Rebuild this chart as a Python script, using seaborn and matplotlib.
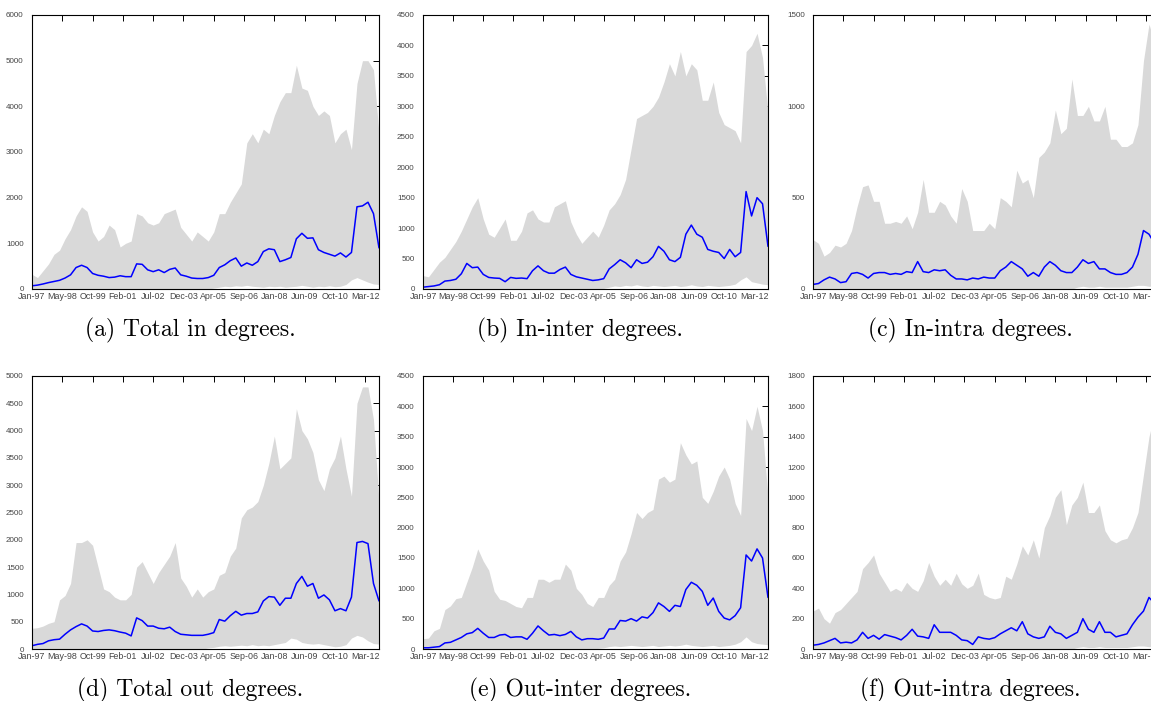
import numpy as np
import pandas as pd
import matplotlib
matplotlib.use("Agg")
import matplotlib.pyplot as plt
import seaborn as sns

# ---------------- data ----------------
tick_labels = ['Jan-97', 'May-98', 'Oct-99', 'Feb-01', 'Jul-02', 'Dec-03',
               'Apr-05', 'Sep-06', 'Jan-08', 'Jun-09', 'Oct-10', 'Mar-12']
months = np.arange(0, 190, 3)   # months since Jan-97, quarterly samples

captions = ['(a) Total in degrees.', '(b) In-inter degrees.', '(c) In-intra degrees.',
            '(d) Total out degrees.', '(e) Out-inter degrees.', '(f) Out-intra degrees.']

total_in_upper = [320, 250, 400, 550, 760, 850, 1100, 1300,
                  1600, 1800, 1700, 1250, 1050, 1150, 1400, 1300,
                  920, 1000, 1050, 1650, 1600, 1450, 1400, 1450,
                  1650, 1700, 1750, 1350, 1200, 1050, 1250, 1150,
                  1050, 1250, 1650, 1650, 1900, 2100, 2300, 3200,
                  3400, 3200, 3500, 3400, 3800, 4100, 4300, 4300,
                  4900, 4400, 4350, 4000, 3800, 3900, 3800, 3200,
                  3400, 3500, 3050, 4500, 5000, 5000, 4800, 3400]
total_in_mean = [70, 85, 110, 140, 165, 190, 240, 310,
                 470, 520, 470, 340, 300, 280, 250, 260,
                 290, 270, 270, 550, 540, 420, 380, 420,
                 360, 430, 460, 310, 280, 240, 230, 230,
                 250, 300, 470, 530, 620, 680, 500, 570,
                 520, 600, 820, 880, 860, 600, 640, 690,
                 1100, 1220, 1110, 1120, 860, 800, 760, 720,
                 790, 700, 800, 1800, 1820, 1900, 1650, 900]
total_in_lower = [0, 0, 0, 0, 0, 0, 0, 0,
                  0, 0, 0, 0, 0, 0, 0, 0,
                  0, 0, 0, 0, 0, 0, 0, 0,
                  0, 0, 0, 0, 0, 0, 0, 0,
                  0, 20, 40, 60, 50, 70, 60, 80,
                  60, 50, 40, 60, 50, 60, 40, 50,
                  60, 80, 60, 40, 60, 50, 70, 50,
                  60, 100, 200, 250, 200, 150, 110, 100]

in_inter_upper = [220, 200, 320, 440, 520, 650, 780, 950,
                  1150, 1350, 1500, 1150, 900, 850, 1000, 1150,
                  800, 800, 950, 1250, 1300, 1150, 1100, 1100,
                  1350, 1400, 1450, 1100, 900, 750, 850, 950,
                  850, 1050, 1300, 1400, 1550, 1800, 2300, 2800,
                  2850, 2900, 3000, 3150, 3400, 3700, 3500, 3900,
                  3500, 3700, 3600, 3100, 3100, 3400, 2900, 2700,
                  2650, 2600, 2400, 3900, 4000, 4200, 3800, 2900]
in_inter_mean = [30, 40, 50, 70, 130, 140, 160, 250,
                 420, 350, 360, 240, 190, 180, 175, 120,
                 190, 175, 180, 170, 300, 380, 300, 260,
                 260, 320, 360, 240, 200, 180, 160, 140,
                 150, 170, 330, 400, 480, 430, 350, 480,
                 420, 440, 530, 700, 620, 480, 450, 520,
                 900, 1050, 900, 850, 650, 620, 600, 500,
                 650, 530, 600, 1600, 1200, 1500, 1400, 700]
in_inter_lower = [0, 0, 0, 0, 0, 0, 0, 0,
                  0, 0, 0, 0, 0, 0, 0, 0,
                  0, 0, 0, 0, 0, 0, 0, 0,
                  0, 0, 0, 0, 0, 0, 0, 0,
                  0, 10, 30, 50, 40, 60, 50, 70,
                  50, 40, 60, 50, 40, 50, 60, 40,
                  50, 70, 50, 40, 60, 50, 40, 50,
                  60, 80, 150, 200, 120, 100, 80, 70]

in_intra_upper = [270, 250, 180, 200, 240, 230, 250, 320,
                  450, 560, 570, 480, 480, 360, 360, 370,
                  360, 400, 330, 420, 600, 420, 420, 480,
                  460, 400, 360, 550, 480, 320, 320, 320,
                  360, 330, 500, 480, 450, 650, 580, 600,
                  500, 720, 750, 800, 980, 850, 880, 1150,
                  950, 950, 1000, 920, 920, 1000, 820, 820,
                  780, 780, 800, 900, 1250, 1450, 1350, 1300]
in_intra_mean = [25, 30, 50, 65, 55, 35, 40, 85,
                 90, 80, 60, 85, 90, 90, 80, 85,
                 80, 95, 90, 150, 95, 90, 105, 100,
                 105, 75, 55, 55, 50, 60, 55, 65,
                 60, 60, 100, 120, 150, 130, 110, 70,
                 90, 70, 120, 150, 130, 100, 90, 90,
                 120, 160, 140, 150, 110, 110, 90, 80,
                 80, 90, 120, 190, 320, 300, 250, 200]
in_intra_lower = [0, 0, 0, 0, 0, 0, 0, 0,
                  0, 0, 0, 0, 0, 0, 0, 0,
                  0, 0, 0, 0, 0, 0, 0, 0,
                  0, 0, 0, 0, 0, 0, 0, 0,
                  0, 0, 0, 0, 0, 0, 0, 0,
                  0, 0, 0, 0, 0, 0, 0, 0,
                  10, 15, 10, 10, 15, 10, 10, 10,
                  10, 10, 15, 20, 20, 15, 15, 15]

total_out_upper = [380, 390, 420, 470, 500, 900, 980, 1200,
                   1950, 1950, 2000, 1900, 1500, 1100, 1050, 950,
                   900, 900, 1000, 1500, 1600, 1400, 1200, 1400,
                   1550, 1700, 1950, 1300, 1150, 950, 1100, 950,
                   1050, 1100, 1350, 1400, 1700, 1850, 2400, 2550,
                   2600, 2700, 3000, 3400, 3900, 3300, 3400, 3500,
                   4400, 4000, 3850, 3600, 3100, 2900, 3300, 3500,
                   3900, 3300, 2800, 4500, 4800, 4800, 4200, 2700]
total_out_mean = [60, 85, 100, 150, 170, 180, 270, 350,
                  410, 460, 420, 330, 320, 340, 350, 335,
                  310, 290, 240, 570, 520, 420, 420, 380,
                  370, 400, 320, 270, 260, 250, 250, 250,
                  270, 300, 540, 510, 610, 690, 620, 650,
                  650, 680, 880, 960, 950, 800, 930, 930,
                  1200, 1330, 1150, 1200, 930, 990, 900, 700,
                  740, 700, 950, 1950, 1970, 1930, 1200, 880]
total_out_lower = [0, 0, 0, 0, 0, 0, 0, 0,
                   0, 0, 0, 0, 0, 0, 0, 0,
                   0, 0, 0, 0, 0, 0, 0, 0,
                   0, 0, 0, 0, 0, 0, 0, 0,
                   20, 30, 50, 60, 50, 60, 70, 60,
                   80, 60, 70, 60, 80, 100, 120, 200,
                   180, 120, 100, 90, 100, 80, 60, 40,
                   50, 80, 200, 250, 220, 150, 100, 90]

out_inter_upper = [170, 180, 300, 340, 650, 710, 830, 850,
                   1100, 1350, 1650, 1450, 1300, 950, 820, 800,
                   750, 700, 680, 850, 850, 1150, 1150, 1100,
                   1150, 1150, 1400, 1300, 1000, 900, 750, 700,
                   850, 850, 1050, 1150, 1450, 1600, 1900, 2250,
                   2150, 2250, 2300, 2800, 2850, 2750, 2800, 3400,
                   3200, 3050, 3100, 2500, 2400, 2600, 2850, 3000,
                   2800, 2400, 2200, 3800, 3600, 4000, 3600, 2500]
out_inter_mean = [20, 20, 30, 40, 100, 110, 150, 190,
                  250, 270, 340, 260, 190, 190, 230, 240,
                  190, 200, 200, 160, 260, 380, 300, 230,
                  240, 220, 240, 290, 200, 150, 170, 170,
                  160, 180, 330, 330, 470, 460, 500, 460,
                  530, 510, 600, 760, 700, 620, 720, 700,
                  980, 1100, 1050, 950, 720, 840, 620, 510,
                  480, 550, 680, 1550, 1450, 1650, 1500, 850]
out_inter_lower = [0, 0, 0, 0, 0, 0, 0, 0,
                   0, 0, 0, 0, 0, 0, 0, 0,
                   0, 0, 0, 0, 0, 0, 0, 0,
                   0, 0, 0, 0, 0, 0, 0, 0,
                   10, 20, 40, 50, 40, 50, 60, 50,
                   40, 50, 60, 40, 50, 60, 50, 60,
                   80, 60, 50, 40, 50, 60, 40, 50,
                   60, 80, 120, 200, 120, 90, 80, 70]

out_intra_upper = [250, 270, 200, 170, 240, 260, 300, 340,
                   380, 530, 570, 620, 500, 440, 380, 400,
                   380, 440, 400, 380, 450, 570, 480, 420,
                   460, 420, 500, 430, 400, 420, 500, 360,
                   340, 330, 340, 480, 460, 560, 680, 620,
                   720, 600, 800, 880, 1000, 1050, 820, 950,
                   1000, 1100, 900, 900, 950, 780, 720, 700,
                   720, 730, 800, 900, 1150, 1400, 1550, 1300]
out_intra_mean = [25, 30, 40, 55, 70, 40, 45, 40,
                  60, 110, 70, 90, 65, 95, 85, 75,
                  60, 90, 130, 85, 80, 70, 160, 110,
                  110, 110, 90, 60, 55, 30, 80, 70,
                  65, 75, 100, 120, 140, 120, 180, 100,
                  80, 70, 80, 150, 110, 100, 70, 90,
                  110, 200, 130, 110, 180, 110, 110, 80,
                  90, 100, 160, 210, 250, 340, 300, 180]
out_intra_lower = [0, 0, 0, 0, 0, 0, 0, 0,
                   0, 0, 0, 0, 0, 0, 0, 0,
                   0, 0, 0, 0, 0, 0, 0, 0,
                   0, 0, 0, 0, 0, 0, 0, 0,
                   0, 0, 0, 0, 0, 0, 0, 0,
                   0, 0, 0, 0, 0, 0, 0, 0,
                   10, 15, 10, 10, 15, 10, 10, 10,
                   10, 10, 15, 20, 20, 15, 15, 15]

y_max = [6000, 4500, 1500, 5000, 4500, 1800]
y_step = [1000, 500, 500, 500, 500, 200]

series = [(total_in_upper, total_in_mean, total_in_lower),
          (in_inter_upper, in_inter_mean, in_inter_lower),
          (in_intra_upper, in_intra_mean, in_intra_lower),
          (total_out_upper, total_out_mean, total_out_lower),
          (out_inter_upper, out_inter_mean, out_inter_lower),
          (out_intra_upper, out_intra_mean, out_intra_lower)]

# ---------------- style / layout ----------------
sns.set_style("white")
plt.rcParams['font.family'] = ['Liberation Sans', 'DejaVu Sans']

W, H = 1151, 701
fig = plt.figure(figsize=(W / 100, H / 100), dpi=100)

lefts = [32, 423, 813]
widths = [347, 345, 347]
tops = [15, 376]
heights = [274, 273]
cap_x = [190, 580, 970]
cap_base = [336, 696]

for i, ((up, mn, lo), cap) in enumerate(zip(series, captions)):
    r, c = divmod(i, 3)
    ax = fig.add_axes([lefts[c] / W, 1 - (tops[r] + heights[r]) / H,
                       widths[c] / W, heights[r] / H])
    df = pd.DataFrame({'month': months, 'upper': up, 'mean': mn, 'lower': lo})
    ax.fill_between(df['month'], df['lower'], df['upper'], color='#d9d9d9', lw=0)
    sns.lineplot(data=df, x='month', y='mean', color='#0000ff', lw=1.1, ax=ax)
    ax.set_xlim(months[0], months[-1])
    ax.set_ylim(0, y_max[i])
    ax.set_xticks(np.arange(len(tick_labels)) * 16.5)
    ax.set_xticklabels(tick_labels)
    ax.set_yticks(np.arange(0, y_max[i] + 1, y_step[i]))
    ax.set_xlabel('')
    ax.set_ylabel('')
    ax.tick_params(axis='both', direction='in', top=True, right=True,
                   length=4, width=0.7, color='black', labelcolor='#444444')
    ax.tick_params(axis='x', labelsize=6.4, pad=2.5)
    ax.tick_params(axis='y', labelsize=5.8, pad=6)
    for s in ax.spines.values():
        s.set_visible(True)
        s.set_linewidth(0.8)
        s.set_color('black')
    fig.text(cap_x[c] / W, 1 - cap_base[r] / H, cap, fontfamily='cmr10',
             fontsize=17, ha='center', va='baseline', color='black')

fig.savefig('out.png', dpi=100)
